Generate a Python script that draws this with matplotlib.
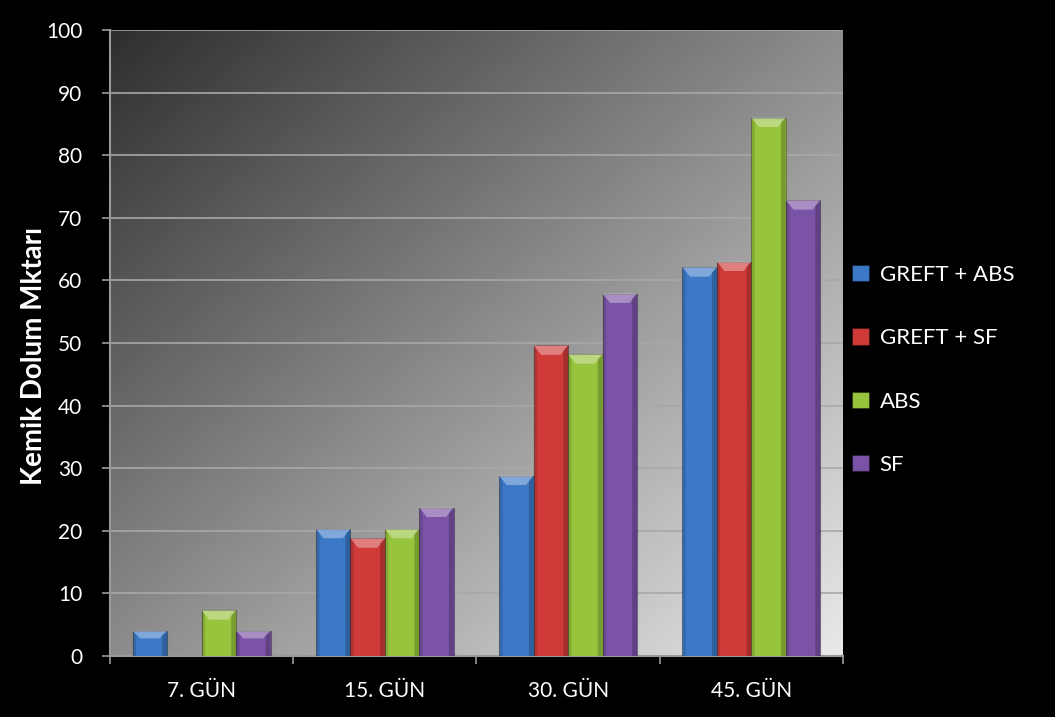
import numpy as np
import matplotlib
matplotlib.use("Agg")
import matplotlib.pyplot as plt
from matplotlib.patches import Polygon

categories = ["7. GÜN", "15. GÜN", "30. GÜN", "45. GÜN"]
series = ["GREFT + ABS", "GREFT + SF", "ABS", "SF"]
greft_abs = [4.0, 20.3, 28.8, 62.1]
greft_sf = [0.0, 18.8, 49.6, 63.0]
abs_vals = [7.3, 20.3, 48.2, 86.0]
sf_vals = [4.0, 23.7, 57.9, 72.8]
colors = ["#3b78c6", "#d03b3a", "#97c43d", "#7a52a6"]
y_ticks = list(range(0, 101, 10))

plt.rcParams["font.family"] = ["Lato", "DejaVu Sans"]

fig = plt.figure(figsize=(10.55, 7.17), dpi=100, facecolor="black")
ax = fig.add_axes([0.1043, 0.0851, 0.6947, 0.8731])
ax.set_facecolor("black")

# diagonal grey gradient: dark top-left -> light bottom-right
gx, gy = np.meshgrid(np.linspace(0, 1, 200), np.linspace(0, 1, 200))
grad = (gx + gy) / 2.0
ax.imshow(grad, cmap="gray", vmin=-0.25, vmax=1.12, extent=[0, 1, 0, 1],
          transform=ax.transAxes, aspect="auto", zorder=0, origin="upper",
          interpolation="bilinear")

x = np.arange(len(categories))
w = 0.188
data = [greft_abs, greft_sf, abs_vals, sf_vals]
for k, (vals, col, name) in enumerate(zip(data, colors, series)):
    pos = x + (k - 1.5) * w
    bars = ax.bar(pos, vals, width=w, color=col, edgecolor=(0, 0, 0, 0.3),
                  linewidth=0.8, zorder=3, label=name)
    for b in bars:
        h = b.get_height()
        if h <= 0:
            continue
        x0, x1 = b.get_x(), b.get_x() + b.get_width()
        bw = b.get_width()
        bev = min(1.5, h * 0.3)
        inset = bw * 0.22
        # lighter bevel on top, darker edges on sides
        ax.add_patch(Polygon([(x0, h), (x1, h), (x1 - inset, h - bev), (x0 + inset, h - bev)],
                             closed=True, facecolor="white", alpha=0.35,
                             edgecolor="none", zorder=4))
        ax.add_patch(Polygon([(x0, 0), (x0 + bw * 0.1, 0), (x0 + bw * 0.1, h - bev * 0.5), (x0, h)],
                             closed=True, facecolor="black", alpha=0.12,
                             edgecolor="none", zorder=4))
        ax.add_patch(Polygon([(x1, 0), (x1 - bw * 0.14, 0), (x1 - bw * 0.14, h - bev * 0.5), (x1, h)],
                             closed=True, facecolor="black", alpha=0.2,
                             edgecolor="none", zorder=4))

ax.set_xlim(-0.5, len(categories) - 0.5)
ax.set_ylim(0, 100)
ax.set_yticks(y_ticks)
ax.set_xticks(x)
ax.set_xticklabels(categories)
ax.set_xticks(np.arange(-0.5, len(categories)), minor=True)
ax.tick_params(axis="x", which="major", length=0, colors="white",
               labelsize=15, pad=18)
ax.tick_params(axis="x", which="minor", length=6, color="#9a9a9a", width=1.2)
ax.tick_params(axis="y", length=6, color="#9a9a9a", width=1.2,
               labelcolor="white", labelsize=15, pad=14)
ax.yaxis.grid(True, color="#a8a8a8", linewidth=1.2, zorder=1)
ax.set_axisbelow(True)
for s in ["top", "right"]:
    ax.spines[s].set_visible(False)
for s in ["left", "bottom"]:
    ax.spines[s].set_color("#9a9a9a")
    ax.spines[s].set_linewidth(1.5)

ax.set_ylabel("Kemik Dolum Mktarı", color="white", fontsize=20,
              fontweight="bold")
ax.yaxis.set_label_coords(-0.086, 0.479)

leg = ax.legend(loc="center left", bbox_to_anchor=(0.985, 0.457), frameon=False,
                fontsize=16, labelcolor="white", labelspacing=1.95,
                handlelength=0.75, handleheight=0.75, handletextpad=0.5)

fig.savefig("out.png", dpi=100, facecolor="black")
